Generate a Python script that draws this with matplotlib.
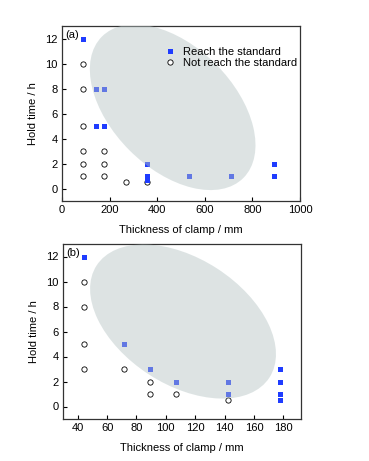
import matplotlib
matplotlib.use("Agg")
import matplotlib.pyplot as plt
from matplotlib.patches import Ellipse
from matplotlib.transforms import ScaledTranslation

plt.rcParams['font.family'] = ['Liberation Sans', 'DejaVu Sans']

# Panel (a) data
a_reach_x = [89, 143, 178, 143, 178, 356, 356, 356, 534, 712, 890, 890]
a_reach_y = [12, 8, 8, 5, 5, 2, 1, 0.7, 1, 1, 2, 1]
a_not_x = [89, 89, 89, 89, 89, 89, 178, 178, 178, 267, 356]
a_not_y = [10, 8, 5, 3, 2, 1, 3, 2, 1, 0.5, 0.5]

# Panel (b) data
b_reach_x = [44.5, 71.2, 89, 106.8, 142.4, 142.4, 178, 178, 178, 178]
b_reach_y = [12, 5, 3, 2, 2, 1, 3, 2, 1, 0.5]
b_not_x = [44.5, 44.5, 44.5, 44.5, 71.2, 89, 89, 106.8, 142.4]
b_not_y = [10, 8, 5, 3, 3, 2, 1, 1, 0.5]

a_xticks = [0, 200, 400, 600, 800, 1000]
b_xticks = [40, 60, 80, 100, 120, 140, 160, 180]
yticks = [0, 2, 4, 6, 8, 10, 12]

fig = plt.figure(figsize=(3.69, 4.61), dpi=100)
ax_a = fig.add_axes([62/369, 1-201/461, 238/369, 175/461])
ax_b = fig.add_axes([63/369, 1-419/461, 238/369, 175/461])

blue = '#1f3cff'
spine_c = '#333333'

def style(ax, xlim, xticks):
    ax.set_xlim(*xlim)
    ax.set_ylim(-1, 13)
    ax.set_xticks(xticks)
    ax.set_yticks(yticks)
    ax.tick_params(direction='in', length=3, width=0.8, labelsize=8,
                   colors='black', pad=3)
    for s in ax.spines.values():
        s.set_color(spine_c)
        s.set_linewidth(0.9)
    ax.set_xlabel('Thickness of clamp / mm', fontsize=8, labelpad=7)
    ax.set_ylabel('Hold time / h', fontsize=8, labelpad=5)

def ellipse(ax, cx, cy, a_px, b_px, ang):
    trans = fig.dpi_scale_trans + ScaledTranslation(cx, cy, ax.transData)
    e = Ellipse((0, 0), width=2*a_px/100, height=2*b_px/100, angle=ang,
                transform=trans, facecolor='#b4c3c3', edgecolor='none',
                alpha=0.45, zorder=3)
    ax.add_patch(e)

# Panel a
style(ax_a, (0, 1000), a_xticks)
ax_a.plot(a_reach_x, a_reach_y, 's', color=blue, ms=3.6, mew=0, zorder=2,
          label='Reach the standard')
ax_a.plot(a_not_x, a_not_y, 'o', mfc='white', mec='black', ms=3.8, mew=0.6,
          zorder=1, label='Not reach the standard')
ellipse(ax_a, 465, 6.5, 100, 61, -45)
leg = ax_a.legend(loc='upper right', frameon=False, fontsize=8,
                  handlelength=1.0, handletextpad=0.7, borderaxespad=0,
                  borderpad=0, labelspacing=0.05,
                  bbox_to_anchor=(0.99, 0.88))
leg.set_zorder(5)
ax_a.text(0.015, 0.975, '(a)', transform=ax_a.transAxes, fontsize=8,
          va='top', ha='left')

# Panel b
style(ax_b, (30, 192), b_xticks)
ax_b.plot(b_reach_x, b_reach_y, 's', color=blue, ms=3.6, mew=0, zorder=2)
ax_b.plot(b_not_x, b_not_y, 'o', mfc='white', mec='black', ms=3.8, mew=0.6,
          zorder=1)
ellipse(ax_b, 111.7, 6.8, 103, 63, -33)
ax_b.text(0.015, 0.975, '(b)', transform=ax_b.transAxes, fontsize=8,
          va='top', ha='left')

fig.savefig('out.png', dpi=100)
